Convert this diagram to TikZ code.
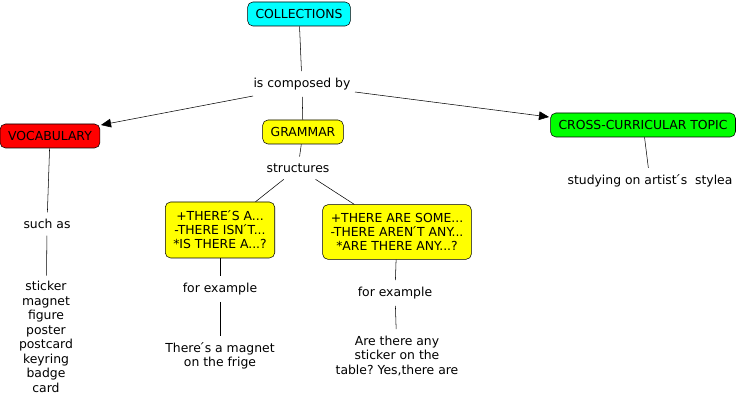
\documentclass[tikz,border=0pt]{standalone}
\usepackage{fontspec}
\setmainfont{DejaVu Sans}
\usepackage{tikz}
\usetikzlibrary{arrows.meta,shapes,positioning}
\frenchspacing
\definecolor{cmcyan}{RGB}{0,255,255}
\definecolor{cmred}{RGB}{255,0,0}
\definecolor{cmyellow}{RGB}{255,255,0}
\definecolor{cmgreen}{RGB}{0,255,0}
\tikzstyle{concept} = [draw=black, rounded corners=4pt, minimum height=18pt, inner xsep=6pt, align=center, font=\fontsize{9.3}{10.5}\selectfont]
\tikzstyle{linking} = [inner sep=5pt, align=center, font=\fontsize{9.3}{10.9}\selectfont]
\tikzstyle{link} = [thin, black]
\tikzstyle{arrow} = [thin, black, -{Triangle[length=7.5pt,width=6.5pt]}]

\begin{document}
\begin{tikzpicture}[x=0.75pt, y=-0.75pt]
\useasboundingbox (0,0) rectangle (744,402);
% Concepts
\node[concept, fill=cmcyan] (coll) at (299,14) {COLLECTIONS};
\node[concept, fill=cmred] (voc) at (50,136) {VOCABULARY};
\node[concept, fill=cmyellow] (gram) at (303,132) {GRAMMAR};
\node[concept, fill=cmgreen] (cross) at (643,125) {CROSS-CURRICULAR TOPIC};
\node[concept, fill=cmyellow, minimum height=42pt] (sing) at (220,230) {+THERE\'{}S A...\\-THERE ISN\'{}T...\\*IS THERE A...?};
\node[concept, fill=cmyellow, minimum height=41pt] (plur) at (397,232) {+THERE ARE SOME...\\-THERE AREN\'{}T ANY...\\*ARE THERE ANY...?};

% Linking phrases
\node[linking] (comp) at (302,84) {is composed by};
\node[linking] (struct) at (298,168) {structures};
\node[linking] (such) at (47,224) {such as};
\node[linking] (forex1) at (220,289) {for example};
\node[linking] (forex2) at (395,293) {for example};
\node[linking] (study) at (650,181) {studying on artist\'{}s\ \ stylea};

% Leaves
\node[linking, inner sep=4pt] (words) at (46,337) {sticker\\magnet\\figure\\poster\\postcard\\keyring\\badge\\card};
\node[linking] (ex1) at (220,356) {There\'{}s a magnet\\on the frige};
\node[linking] (ex2) at (397,356) {Are there any\\sticker on the\\table? Yes,there are};

% Arrow ends
\coordinate (c1) at (253,96);
\coordinate (c2) at (355,92);
\coordinate (v1) at (101,125);
\coordinate (t1) at (549,117);

% Connections
\draw[link] (coll) -- (comp);
\draw[arrow] (c1) -- (v1);
\draw[arrow] (c2) -- (t1);
\draw[link] (comp) -- (gram);
\draw[link] (gram) -- (struct);
\draw[link] (struct) -- (sing);
\draw[link] (struct) -- (plur);
\draw[link] (voc) -- (such);
\draw[link] (such) -- (words);
\draw[link] (sing) -- (forex1);
\draw[link] (forex1) -- (ex1);
\draw[link] (plur) -- (forex2);
\draw[link] (forex2) -- (ex2);
\draw[link] (cross) -- (study);
\end{tikzpicture}
\end{document}
